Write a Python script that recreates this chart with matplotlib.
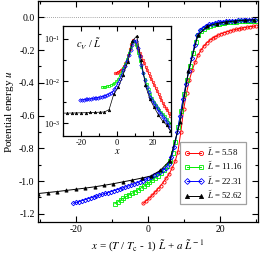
import matplotlib
matplotlib.use("Agg")
import matplotlib.pyplot as plt
from matplotlib.ticker import MultipleLocator, FixedLocator, LogFormatterSciNotation, NullFormatter

plt.rcParams['font.family'] = ['Liberation Serif', 'DejaVu Serif']
plt.rcParams['mathtext.fontset'] = 'stix'
plt.rcParams['axes.unicode_minus'] = False

# system sizes
L_labels = ['5.58', '11.16', '22.31', '52.62']

# main panel: potential energy u vs scaled x
x_red = [-1.3, -0.5, 0.3, 1.1, 1.9, 2.7, 3.5, 4.3, 5.1, 5.9, 6.7, 7.5, 8.3, 9.1, 9.9, 10.7,
         11.5, 12.3, 13.1, 13.9, 14.7, 15.5, 16.3, 17.1, 17.9, 18.7, 19.5, 20.3, 21.1, 21.9,
         22.7, 23.5, 24.3, 25.1, 25.9, 26.7, 27.5, 28.3, 29.1, 29.9]
u_red = [-1.136, -1.120, -1.105, -1.088, -1.068, -1.048, -1.028, -1.005, -0.980, -0.955,
         -0.920, -0.880, -0.820, -0.700, -0.560, -0.460, -0.380, -0.320, -0.270, -0.230,
         -0.200, -0.175, -0.155, -0.140, -0.127, -0.117, -0.108, -0.100, -0.094, -0.088,
         -0.083, -0.078, -0.074, -0.070, -0.066, -0.063, -0.060, -0.057, -0.055, -0.052]

x_green = [-9.2, -8.4, -7.6, -6.8, -6.0, -5.2, -4.4, -3.6, -2.8, -2.0, -1.2, -0.4, 0.4, 1.2,
           2.0, 2.8, 3.6, 4.4, 5.2, 6.0, 6.8, 7.6, 8.4, 9.2, 10.0, 10.8, 11.6, 12.4, 13.2,
           14.0, 14.8, 15.6, 16.4, 17.2, 18.0, 18.8, 19.6, 20.4, 21.2, 22.0, 22.8, 23.6,
           24.4, 25.2, 26.0, 26.8, 27.6, 28.4, 29.2, 30.0]
u_green = [-1.138, -1.127, -1.116, -1.105, -1.094, -1.084, -1.074, -1.064, -1.053, -1.043,
           -1.032, -1.020, -1.008, -0.995, -0.981, -0.966, -0.949, -0.930, -0.905, -0.875,
           -0.830, -0.760, -0.670, -0.570, -0.470, -0.380, -0.300, -0.220, -0.150, -0.110,
           -0.085, -0.068, -0.057, -0.050, -0.045, -0.041, -0.038, -0.035, -0.033, -0.031,
           -0.029, -0.028, -0.026, -0.025, -0.024, -0.023, -0.022, -0.021, -0.020, -0.020]

x_blue = [-20.7, -19.9, -19.1, -18.3, -17.5, -16.7, -15.9, -15.1, -14.3, -13.5, -12.7, -11.9,
          -11.1, -10.3, -9.5, -8.7, -7.9, -7.1, -6.3, -5.5, -4.7, -3.9, -3.1, -2.3, -1.5,
          -0.7, 0.1, 0.9, 1.7, 2.5, 3.3, 4.1, 4.9, 5.7, 6.5, 7.3, 8.1, 8.9, 9.7, 10.5, 11.3,
          12.1, 12.9, 13.7, 14.5, 15.3, 16.1, 16.9, 17.7, 18.5, 19.3, 20.1, 20.9, 21.7,
          22.5, 23.3, 24.1, 24.9, 25.7, 26.5, 27.3, 28.1, 28.9, 29.7]
u_blue = [-1.136, -1.130, -1.125, -1.119, -1.114, -1.108, -1.103, -1.097, -1.092, -1.086,
          -1.081, -1.075, -1.070, -1.064, -1.059, -1.053, -1.048, -1.042, -1.036, -1.030,
          -1.024, -1.018, -1.011, -1.004, -0.997, -0.989, -0.981, -0.973, -0.964, -0.955,
          -0.944, -0.932, -0.918, -0.895, -0.855, -0.790, -0.700, -0.600, -0.500, -0.410,
          -0.330, -0.250, -0.170, -0.110, -0.080, -0.062, -0.050, -0.043, -0.038, -0.034,
          -0.031, -0.028, -0.026, -0.024, -0.022, -0.021, -0.020, -0.019, -0.018, -0.017,
          -0.016, -0.016, -0.015, -0.015]

x_black = [-30.4, -27.8, -25.2, -22.6, -20.0, -17.4, -14.8, -12.2, -9.6, -7.0, -4.4, -1.8,
           0.8, 3.4, 6.0, 8.9, 11.2, 13.8, 16.4, 19.0, 21.6, 24.2, 26.8, 29.4]
u_black = [-1.076, -1.070, -1.064, -1.057, -1.050, -1.043, -1.035, -1.026, -1.016, -1.005,
           -0.994, -0.982, -0.969, -0.935, -0.876, -0.640, -0.330, -0.110, -0.055, -0.038,
           -0.028, -0.022, -0.018, -0.015]

# inset: specific heat c_V / L
xi_red = [-0.9, -0.1, 0.7, 1.5, 2.3, 3.1, 3.9, 4.7, 5.5, 6.3, 7.1, 7.9, 8.7, 9.5, 10.3, 11.1,
          11.9, 12.7, 13.5, 14.3, 15.1, 15.9, 16.7, 17.5, 18.3, 19.1, 19.9, 20.7, 21.5, 22.3,
          23.1, 23.9, 24.7, 25.5, 26.3, 27.1, 27.9, 28.7, 29.5]
c_red = [0.0151, 0.0158, 0.0166, 0.0174, 0.0186, 0.0204, 0.0229, 0.0263, 0.0316, 0.0407,
         0.0562, 0.0759, 0.0912, 0.0891, 0.0759, 0.0631, 0.0537, 0.0457, 0.0380, 0.0316,
         0.0263, 0.0219, 0.0182, 0.0151, 0.0129, 0.0110, 0.00933, 0.00794, 0.00676, 0.00575,
         0.00490, 0.00417, 0.00355, 0.00302, 0.00263, 0.00234, 0.00204, 0.00178, 0.00151]

xi_green = [-8.4, -7.4, -6.4, -5.4, -4.4, -3.4, -2.4, -1.4, -0.4, 0.6, 1.6, 2.6, 3.6, 4.6, 5.6,
            6.6, 7.6, 8.6, 9.6, 10.6, 11.6, 12.6, 13.6, 14.6, 15.6, 16.6, 17.6, 18.6, 19.6,
            20.6, 21.6, 22.6, 23.6, 24.6, 25.6, 26.6, 27.6, 28.6, 29.6]
c_green = [0.00724, 0.00733, 0.00741, 0.00759, 0.00776, 0.00804, 0.00832, 0.00891, 0.00977,
           0.0110, 0.0135, 0.0166, 0.0204, 0.0257, 0.0339, 0.0468, 0.0631, 0.0832, 0.0891,
           0.0708, 0.0457, 0.0302, 0.0209, 0.0151, 0.0110, 0.00832, 0.00631, 0.00490,
           0.00389, 0.00324, 0.00275, 0.00234, 0.00204, 0.00182, 0.00162, 0.00145, 0.00126,
           0.00110, 0.00100]

xi_blue = [-20.5, -19.5, -18.5, -17.5, -16.5, -15.5, -14.5, -13.5, -12.5, -11.5, -10.5, -9.5,
           -8.5, -7.5, -6.5, -5.5, -4.5, -3.5, -2.5, -1.5, -0.5, 0.5, 1.5, 2.5, 3.5, 4.5,
           5.5, 6.5, 7.5, 8.5, 9.5, 10.5, 11.5, 12.5, 13.5, 14.5, 15.5, 16.5, 17.5, 18.5,
           19.5, 20.5, 21.5, 22.5, 23.5, 24.5, 25.5, 26.5, 27.5, 28.5, 29.5]
c_blue = [0.00355, 0.00359, 0.00363, 0.00367, 0.00372, 0.00376, 0.00380, 0.00387, 0.00394,
          0.00401, 0.00407, 0.00417, 0.00427, 0.00437, 0.00452, 0.00468, 0.00490, 0.00519,
          0.00562, 0.00631, 0.00741, 0.00891, 0.0110, 0.0138, 0.0178, 0.0229, 0.0302,
          0.0407, 0.0550, 0.0724, 0.0891, 0.0871, 0.0603, 0.0380, 0.0240, 0.0151, 0.0105,
          0.00741, 0.00550, 0.00427, 0.00347, 0.00295, 0.00251, 0.00214, 0.00186, 0.00162,
          0.00141, 0.00126, 0.00110, 0.00093, 0.00079]

xi_black = [-30.4, -27.8, -25.2, -22.6, -20.0, -17.4, -14.8, -12.2, -9.6, -7.0, -4.4, -1.8,
            0.8, 3.4, 6.0, 8.6, 11.0, 13.4, 15.8, 18.2, 20.6, 23.0, 25.4, 27.8, 29.7]
c_black = [0.00174, 0.00174, 0.00175, 0.00176, 0.00177, 0.00178, 0.00180, 0.00181, 0.00183,
           0.00185, 0.0021, 0.0049, 0.0071, 0.0141, 0.0282, 0.089, 0.117, 0.0316, 0.0079,
           0.0038, 0.0024, 0.00158, 0.00112, 0.00089, 0.00066]

styles = [
    dict(color='#ff0000', marker='o', mfc='none'),
    dict(color='#00ee00', marker='s', mfc='none'),
    dict(color='#0000ff', marker='D', mfc='none'),
    dict(color='black', marker='^', mfc='black'),
]

main_data = [(x_red, u_red), (x_green, u_green), (x_blue, u_blue), (x_black, u_black)]
inset_data = [(xi_red, c_red), (xi_green, c_green), (xi_blue, c_blue), (xi_black, c_black)]

fig = plt.figure(figsize=(2.61, 2.58), dpi=100)
ax = fig.add_axes([38 / 261, 1 - 222 / 258, 220 / 261, 221 / 258])

ax.axhline(0.0, color='#888888', lw=0.6, ls=(0, (1, 1.5)), zorder=0)
for (xs, ys), st, lab in zip(main_data, styles, L_labels):
    ax.plot(xs, ys, lw=0.7, ms=2.3, mew=0.6, label=r'$\tilde{L}$ = ' + lab, **st)

ax.set_xlim(-30.5, 30.5)
ax.set_ylim(-1.25, 0.1)
ax.xaxis.set_major_locator(MultipleLocator(20))
ax.xaxis.set_minor_locator(MultipleLocator(10))
ax.yaxis.set_major_locator(MultipleLocator(0.2))
ax.yaxis.set_minor_locator(MultipleLocator(0.1))
ax.yaxis.set_major_formatter(plt.FuncFormatter(lambda v, p: '%.1f' % v if abs(v) > 1e-9 else '0.0'))
ax.tick_params(which='both', direction='in', top=True, right=True, labelsize=7, width=0.8, pad=2.5)
ax.tick_params(which='major', length=4)
ax.tick_params(which='minor', length=2)
for sp in ax.spines.values():
    sp.set_linewidth(0.9)

ax.set_ylabel(r'Potential energy $u$', fontsize=8, labelpad=2)
ax.set_xlabel(r'$x$ = ($T$ / $T_{\rm c}$ - 1) $\tilde{L}$ + $a$ $\tilde{L}^{\,-1}$', fontsize=8, labelpad=3)

leg = ax.legend(loc='lower right', bbox_to_anchor=(0.945, 0.08), fontsize=6.3, numpoints=2,
                fancybox=False, edgecolor='#888888', handlelength=2.2, handletextpad=0.4,
                borderpad=0.4, labelspacing=0.25, markerscale=1.3, borderaxespad=0)
leg.get_frame().set_linewidth(0.9)

# inset
axi = fig.add_axes([63 / 261, 1 - 136 / 258, 108 / 261, 110 / 258])
for (xs, ys), st in zip(inset_data, styles):
    axi.plot(xs, ys, lw=0.5, ms=1.8, mew=0.5, **st)
axi.set_yscale('log')
axi.set_xlim(-30, 30)
axi.set_ylim(5e-4, 0.2)
axi.xaxis.set_major_locator(MultipleLocator(20))
axi.xaxis.set_minor_locator(MultipleLocator(10))
axi.yaxis.set_major_locator(FixedLocator([1e-3, 1e-2, 1e-1]))
axi.yaxis.set_major_formatter(LogFormatterSciNotation())
axi.yaxis.set_minor_locator(FixedLocator([10 ** -3.5, 10 ** -2.5, 10 ** -1.5]))
axi.yaxis.set_minor_formatter(NullFormatter())
axi.tick_params(which='both', direction='in', top=True, right=True, labelsize=6, width=0.8, pad=2)
axi.tick_params(which='major', length=3.5)
axi.tick_params(which='minor', length=2)
for sp in axi.spines.values():
    sp.set_linewidth(0.9)
axi.set_xlabel(r'$x$', fontsize=7.5, labelpad=0)
axi.text(0.12, 0.8, r'$c_V$ / $\tilde{L}$', transform=axi.transAxes, fontsize=7.5)

fig.savefig('out.png', dpi=100)
